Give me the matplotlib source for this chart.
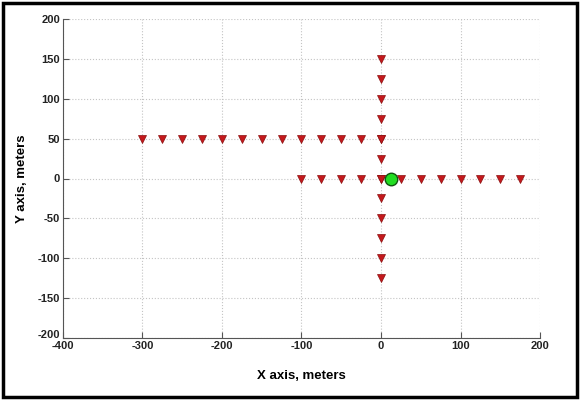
import matplotlib.pyplot as plt
from matplotlib.patches import Rectangle
import matplotlib.transforms as mtransforms

# row of markers at y = 50
row1_x = [-300, -275, -250, -225, -200, -175, -150, -125, -100, -75, -50, -25, 0]
row1_y = [50] * len(row1_x)
# row of markers at y = 0
row2_x = [-100, -75, -50, -25, 0, 25, 50, 75, 100, 125, 150, 175]
row2_y = [0] * len(row2_x)
# column of markers at x = 0
col_y = [150, 125, 100, 75, 50, 25, 0, -25, -50, -75, -100, -125]
col_x = [0] * len(col_y)
# green point
src_x = [12]
src_y = [0]

xticks = [-400, -300, -200, -100, 0, 100, 200]
yticks = [-200, -150, -100, -50, 0, 50, 100, 150, 200]

plt.rcParams['font.family'] = ['Liberation Sans', 'DejaVu Sans']
plt.rcParams['axes.unicode_minus'] = False
fig = plt.figure(figsize=(5.82, 4.0), dpi=100)
ax = fig.add_axes([0.108, 0.155, 0.82, 0.7975])

red = '#c4181c'
for xs, ys in [(row1_x, row1_y), (row2_x, row2_y), (col_x, col_y)]:
    ax.plot(xs, ys, linestyle='none', marker='v', markersize=6,
            color=red, markeredgecolor='#8a1010', markeredgewidth=0.5)
ax.plot(src_x, src_y, linestyle='none', marker='o', markersize=9,
        markerfacecolor='#22dd22', markeredgecolor='#115511', markeredgewidth=1)

ax.set_xlim(-400, 200)
ax.set_ylim(-200, 200)
ax.set_xticks(xticks)
ax.set_yticks(yticks)
ax.grid(True, linestyle=':', color='#c4c4c4', linewidth=0.8)
ax.set_axisbelow(True)
ax.spines['top'].set_visible(False)
ax.spines['right'].set_visible(False)
ax.spines['left'].set_color('#555555')
ax.spines['bottom'].set_color('#555555')
ax.tick_params(direction='in', length=4, color='#555555', labelsize=8, pad=2,
               labelcolor='#222222')
for lab in ax.get_xticklabels() + ax.get_yticklabels():
    lab.set_fontweight('bold')
# nudge the corner labels apart a little, as in the original they just touch
lab = ax.get_yticklabels()[0]
lab.set_transform(lab.get_transform() + mtransforms.ScaledTranslation(0, 3 / 72, fig.dpi_scale_trans))
ax.set_xlabel('X axis, meters', fontsize=9.5, fontweight='bold')
ax.set_ylabel('Y axis, meters', fontsize=9.5, fontweight='bold')
ax.xaxis.set_label_coords(0.5, -0.10)
ax.yaxis.set_label_coords(-0.073, 0.5)

fig.patches.append(Rectangle((0.006, 0.008), 0.986, 0.984, transform=fig.transFigure,
                             fill=False, edgecolor='black', linewidth=2.5))

fig.savefig('out.png', dpi=100)
